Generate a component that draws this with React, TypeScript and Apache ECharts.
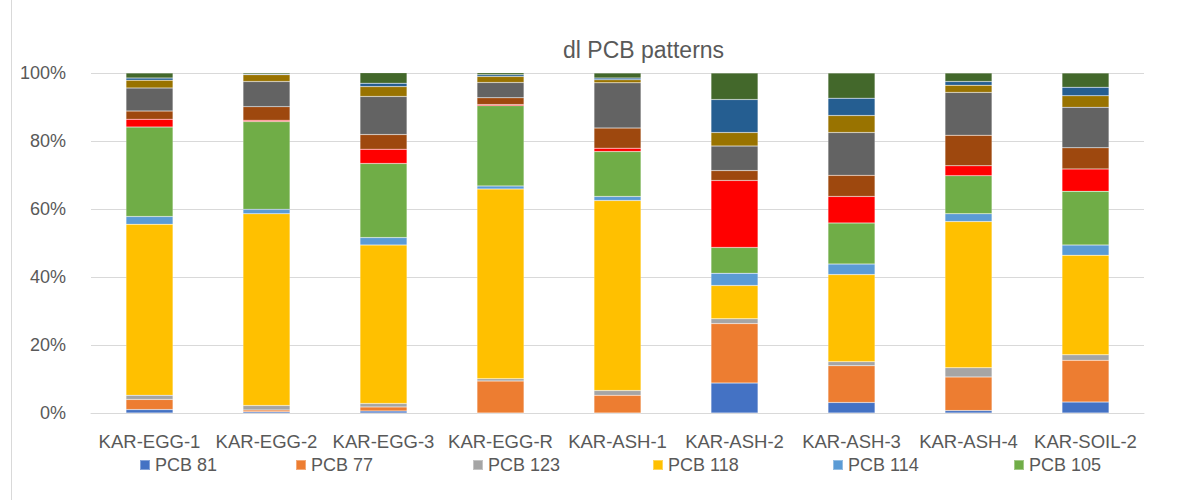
import React, { useEffect, useRef } from "react";
import * as echarts from "echarts";

const categories = ["KAR-EGG-1", "KAR-EGG-2", "KAR-EGG-3", "KAR-EGG-R", "KAR-ASH-1", "KAR-ASH-2", "KAR-ASH-3", "KAR-ASH-4", "KAR-SOIL-2"];

const seriesNames = ["PCB 81", "PCB 77", "PCB 123", "PCB 118", "PCB 114", "PCB 105", "PCB 126", "PCB 167", "PCB 156", "PCB 157", "PCB 169", "PCB 189"];
const legendNames = ["PCB 81", "PCB 77", "PCB 123", "PCB 118", "PCB 114", "PCB 105"];
const colors = ["#4472C4", "#ED7D31", "#A5A5A5", "#FFC000", "#5B9BD5", "#70AD47", "#FF0000", "#9E480E", "#636363", "#997300", "#255E91", "#43682B"];

const pcb81 = [1.0, 0.4, 0.6, 0.0, 0.0, 8.8, 3.1, 0.7, 3.2];
const pcb77 = [3.0, 0.5, 1.2, 9.4, 5.2, 17.5, 10.8, 9.9, 12.3];
const pcb123 = [1.2, 1.3, 1.0, 0.7, 1.4, 1.4, 1.2, 2.7, 1.6];
const pcb118 = [50.3, 56.4, 46.6, 55.8, 55.9, 9.8, 25.6, 43.0, 29.3];
const pcb114 = [2.3, 1.3, 2.2, 0.9, 1.2, 3.6, 3.1, 2.3, 3.0];
const pcb105 = [26.3, 25.8, 21.8, 23.6, 13.2, 7.6, 12.1, 11.2, 15.8];
const pcb126 = [2.3, 0.4, 4.2, 0.3, 1.0, 19.7, 7.8, 2.9, 6.6];
const pcb167 = [2.4, 4.0, 4.3, 2.0, 5.9, 2.9, 6.2, 9.0, 6.2];
const pcb156 = [6.8, 7.4, 11.2, 4.5, 13.3, 7.2, 12.6, 12.6, 11.9];
const pcb157 = [2.3, 2.0, 2.9, 1.8, 0.9, 4.0, 5.0, 2.1, 3.4];
const pcb169 = [0.6, 0.2, 1.0, 0.5, 0.5, 9.7, 5.1, 1.1, 2.5];
const pcb189 = [1.5, 0.5, 3.1, 0.6, 1.5, 7.8, 7.4, 2.5, 4.2];

const seriesValues = [pcb81, pcb77, pcb123, pcb118, pcb114, pcb105, pcb126, pcb167, pcb156, pcb157, pcb169, pcb189];
const yTicks = [0, 20, 40, 60, 80, 100];
const legendLefts = [139, 295, 472, 652, 832, 1013];

const FONT = "'Liberation Sans', Arial, sans-serif";
const TEXT = "#595959";

export default function App() {
  const ref = useRef<HTMLDivElement>(null);
  useEffect(() => {
    if (!ref.current) return;
    const chart = echarts.init(ref.current, null, { renderer: "svg" });
    chart.setOption({
      animation: false,
      backgroundColor: "#ffffff",
      color: colors,
      title: {
        text: "dl PCB patterns",
        left: 558,
        top: 33,
        textStyle: { fontFamily: FONT, fontSize: 23, fontWeight: "normal", color: TEXT },
      },
      graphic: [
        { type: "line", shape: { x1: 11.5, y1: 0, x2: 11.5, y2: 500 }, style: { stroke: "#d9d9d9", lineWidth: 1 } },
      ],
      legend: legendNames.map((n, i) => ({
        data: [n],
        left: legendLefts[i],
        top: 456,
        padding: 0,
        itemWidth: 10,
        itemHeight: 10,
        icon: "rect",
        textStyle: { fontFamily: FONT, fontSize: 18, color: TEXT },
      })),
      grid: { left: 91, right: 46, top: 73, bottom: 87 },
      xAxis: {
        type: "category",
        data: categories,
        axisLine: { lineStyle: { color: "#d9d9d9" } },
        axisTick: { show: false },
        axisLabel: { fontFamily: FONT, fontSize: 18.5, color: TEXT, margin: 19, interval: 0 },
      },
      yAxis: {
        type: "value",
        min: yTicks[0],
        max: yTicks[yTicks.length - 1],
        interval: 20,
        axisLine: { show: false },
        axisTick: { show: false },
        splitLine: { lineStyle: { color: "#d9d9d9", width: 1 } },
        axisLabel: { fontFamily: FONT, fontSize: 18, color: TEXT, margin: 25, formatter: "{value}%" },
      },
      series: seriesNames.map((name, i) => ({
        name,
        type: "bar",
        stack: "total",
        barWidth: 47,
        data: seriesValues[i],
        itemStyle: { color: colors[i], borderColor: "rgba(255,255,255,0.35)", borderWidth: 0.5 },
      })),
    });
    return () => chart.dispose();
  }, []);
  return <div ref={ref} style={{ position: "fixed", left: 0, top: 0, width: 1190, height: 500 }} />;
}
